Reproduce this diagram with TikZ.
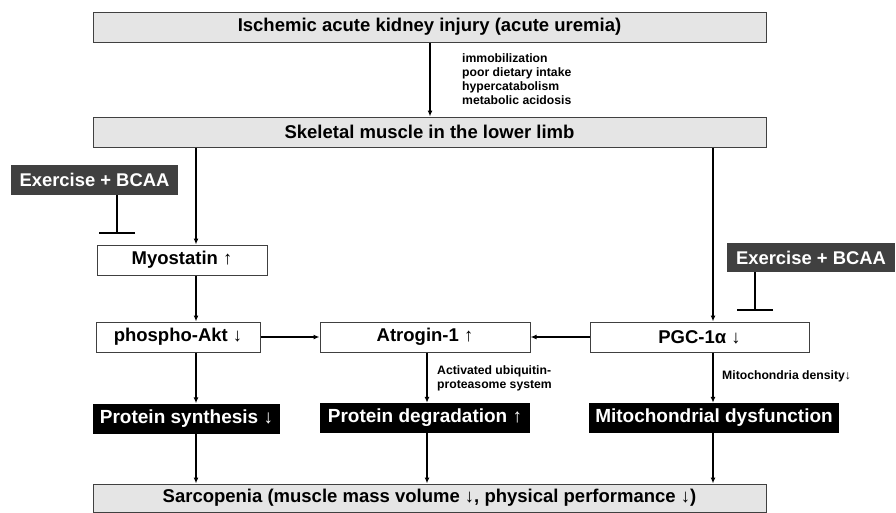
\documentclass[tikz,border=0pt]{standalone}
\usepackage{fontspec}
\setmainfont{Liberation Sans}
\usetikzlibrary{arrows.meta}
\tikzstyle{graybox}=[draw=black!75, fill=black!10, line width=1pt, inner sep=0pt, minimum height=30pt, font=\fontsize{18.5}{22}\selectfont\bfseries]
\tikzstyle{whitebox}=[draw=black!75, fill=white, line width=1pt, inner sep=0pt, minimum height=30pt, font=\fontsize{18.5}{22}\selectfont\bfseries]
\tikzstyle{blackbox}=[fill=black, text=white, inner sep=0pt, minimum height=30pt, font=\fontsize{19}{22}\selectfont\bfseries]
\tikzstyle{exbox}=[fill=black!75, text=white, inner sep=0pt, minimum height=30pt, font=\fontsize{18.4}{22}\selectfont\bfseries]
\tikzstyle{note}=[inner sep=0pt, anchor=west, align=left, font=\fontsize{12.2}{14}\selectfont\bfseries]
\tikzstyle{arr}=[line width=1.5pt, -{Latex[length=6pt,width=5pt]}]
\tikzstyle{inhibit}=[line width=1.8pt, -{Bar[width=36pt,line width=2pt]}]

\begin{document}
\begin{tikzpicture}[x=1pt,y=-1pt]
	\useasboundingbox (0,0) rectangle (896,512);
	% columns of the vertical connectors
	\coordinate (c1) at (196,0);
	\coordinate (c2) at (427,0);
	\coordinate (c3) at (713,0);
	% boxes
	\node[graybox, minimum width=673pt] (aki) at (429.5,27) {Ischemic acute kidney injury (acute uremia)};
	\node[graybox, minimum width=673pt] (skel) at (429.5,132) {Skeletal muscle in the lower limb};
	\node[exbox, minimum width=167pt] (ex1) at (94.5,180) {Exercise + BCAA};
	\node[whitebox, minimum width=170pt] (myo) at (182,260) {Myostatin ↑};
	\node[exbox, minimum width=168pt, minimum height=29pt] (ex2) at (811,257.5) {Exercise + BCAA};
	\node[whitebox, minimum width=164pt] (akt) at (178,337) {phospho-Akt ↓};
	\node[whitebox, minimum width=210pt] (atr) at (425,337) {Atrogin-1 ↑};
	\node[whitebox, minimum width=219pt] (pgc) at (699.5,337) {PGC-1α ↓};
	\node[blackbox, minimum width=187pt] (syn) at (186.5,418.5) {Protein synthesis ↓};
	\node[blackbox, minimum width=210pt] (deg) at (425,418) {Protein degradation ↑};
	\node[blackbox, minimum width=250pt] (mit) at (714,418) {Mitochondrial dysfunction};
	\node[graybox, minimum width=673pt, minimum height=28pt] (sar) at (429.5,498) {Sarcopenia (muscle mass volume ↓, physical performance ↓)};
	% labels
	\node[note] (cause) at (462,79) {immobilization\\poor dietary intake\\hypercatabolism\\metabolic acidosis};
	\node[note] (ups) at (437,378) {Activated ubiquitin-\\proteasome system};
	\node[note] (dens) at (722,376) {Mitochondria density↓};
	% connectors
	\draw[arr] (aki.south -| 430,0) -- (skel.north -| 430,0);
	\draw[arr] (skel.south -| c1) -- (myo.north -| c1);
	\draw[arr] (skel.south -| c3) -- (pgc.north -| c3);
	\draw[arr] (myo.south -| c1) -- (akt.north -| c1);
	\draw[arr] (akt.east) -- (atr.west);
	\draw[arr] (pgc.west) -- (atr.east);
	\draw[arr] (akt.south -| c1) -- (syn.north -| c1);
	\draw[arr] (atr.south -| c2) -- (deg.north -| c2);
	\draw[arr] (pgc.south -| c3) -- (mit.north -| c3);
	\draw[arr] (syn.south -| c1) -- (sar.north -| c1);
	\draw[arr] (deg.south -| c2) -- (sar.north -| c2);
	\draw[arr] (mit.south -| c3) -- (sar.north -| c3);
	% inhibition
	\coordinate (stop1) at (117,234);
	\coordinate (stop2) at (755,311);
	\draw[inhibit] (ex1.south -| stop1) -- (stop1);
	\draw[inhibit] (ex2.south -| stop2) -- (stop2);
\end{tikzpicture}
\end{document}
